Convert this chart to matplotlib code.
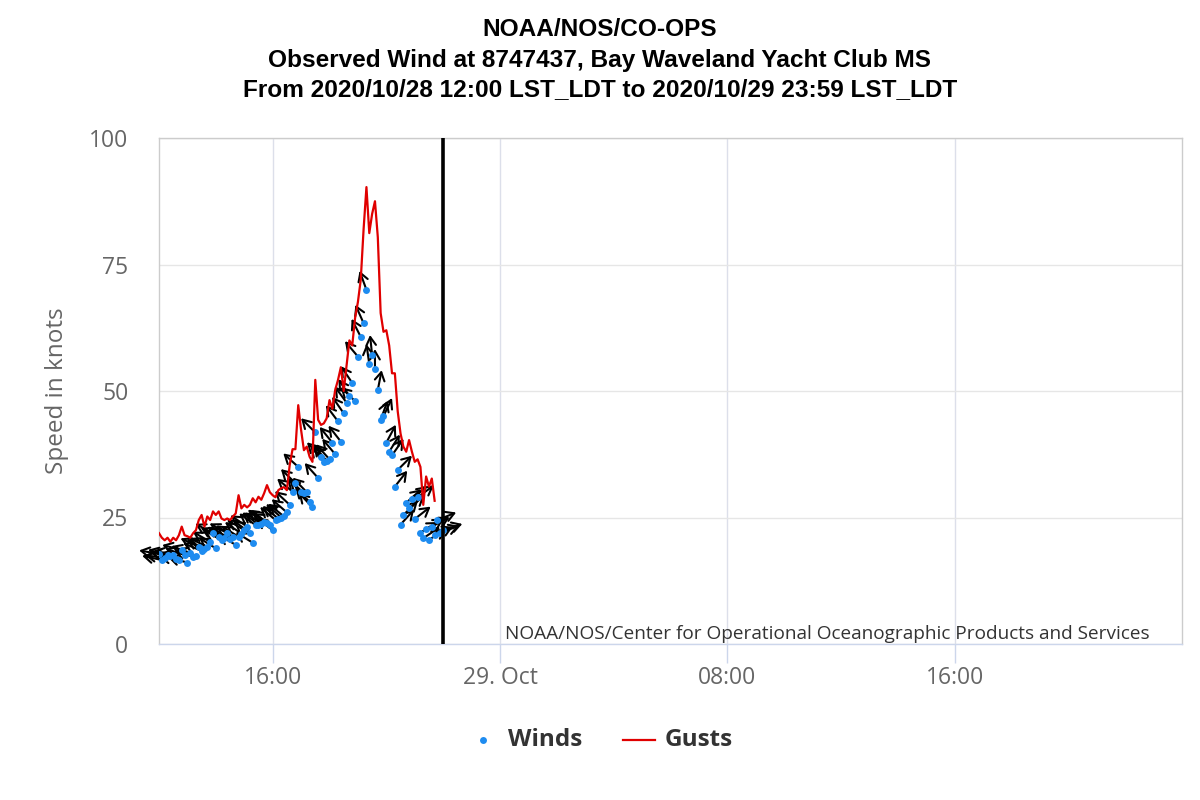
import numpy as np
import pandas as pd
import matplotlib
matplotlib.use("Agg")
import matplotlib.pyplot as plt
import matplotlib.dates as mdates
from matplotlib.lines import Line2D

# 6-minute observations from 2020/10/28 12:00
start = "2020-10-28 12:00"

winds = [17.8, 16.6, 17.0, 17.6, 17.4, 17.6, 16.8, 16.6, 18.6, 17.6,
         16.1, 18.0, 17.2, 17.4, 19.2, 18.4, 18.8, 19.2, 20.2, 21.9,
         18.9, 21.2, 20.5, 21.0, 21.9, 20.8, 21.2, 19.6, 21.2, 21.8,
         22.5, 23.2, 22.0, 20.0, 23.5, 23.6, 23.8, 24.2, 24.0, 23.6,
         22.5, 24.5, 24.8, 25.0, 25.2, 26.0, 27.5, 30.1, 31.8, 35.0,
         30.0, 29.8, 30.0, 28.1, 27.0, 41.8, 32.8, 37.0, 36.0, 36.2,
         36.5, 39.8, 37.5, 44.0, 40.0, 45.6, 47.7, 49.0, 51.6, 48.0,
         56.8, 60.7, 63.4, 70.0, 55.3, 57.1, 54.3, 50.2, 44.3, 45.0,
         39.8, 38.0, 37.3, 31.1, 34.4, 23.6, 25.5, 27.9, 26.8, 28.6,
         24.7, 29.0, 22.0, 20.9, 22.7, 20.6, 23.2, 21.5, 24.5, 22.0,
         22.5]

# wind direction (degrees, from)
wind_dir = [100, 102, 98, 105, 100, 103, 106, 100, 104, 108,
            105, 110, 108, 112, 115, 113, 118, 116, 120, 118,
            122, 117, 120, 123, 119, 121, 124, 120, 122, 125,
            121, 124, 126, 122, 125, 127, 123, 126, 128, 125,
            127, 130, 128, 132, 129, 131, 133, 130, 134, 132,
            135, 133, 136, 134, 137, 135, 138, 136, 139, 140,
            138, 141, 140, 143, 142, 145, 144, 147, 146, 134,
            140, 153, 156, 160, 172, 174, 180, 191, 200, 205,
            208, 212, 215, 218, 225, 222, 226, 228, 230, 229,
            232, 234, 238, 236, 240, 238, 242, 245, 248, 250,
            252]

gusts = [21.9, 21.0, 20.5, 21.0, 20.2, 21.0, 20.5, 21.5, 23.2, 21.5,
         21.3, 21.0, 21.9, 22.5, 24.5, 25.5, 23.2, 25.2, 24.5, 26.2,
         25.5, 26.2, 24.8, 24.5, 24.8, 24.5, 25.2, 25.8, 29.4, 26.8,
         27.5, 27.0, 27.5, 28.8, 28.0, 29.1, 28.5, 29.8, 31.4, 30.0,
         29.4, 29.0, 30.4, 30.8, 31.0, 30.4, 35.4, 38.5, 38.5, 47.2,
         42.3, 38.3, 39.0, 37.0, 36.0, 52.2, 44.3, 43.3, 43.6, 44.6,
         48.2, 46.5, 50.2, 52.2, 54.7, 50.0, 55.0, 60.0, 59.0, 64.4,
         67.6, 72.0, 82.0, 90.3, 81.2, 85.0, 87.5, 80.4, 65.4, 61.7,
         62.0, 59.0, 53.5, 53.5, 46.0, 41.6, 39.0, 38.0, 40.3, 38.0,
         36.0, 36.5, 35.0, 27.5, 33.1, 31.1, 32.7, 28.3]

now_line = "2020-10-28 22:00"
tick_times = ["2020-10-28 16:00", "2020-10-29 00:00", "2020-10-29 08:00", "2020-10-29 16:00"]
tick_labels = ["16:00", "29. Oct", "08:00", "16:00"]

t_wind = mdates.date2num(pd.date_range(start, periods=len(winds), freq="6min").to_pydatetime())
t_gust = mdates.date2num(pd.date_range(start, periods=len(gusts), freq="6min").to_pydatetime())

blue = "#1e8cf0"
red = "#e00000"

fig = plt.figure(figsize=(12, 8), dpi=100)
ax = fig.add_axes([159 / 1200, 1 - 644 / 800, 1023 / 1200, 506 / 800])

ax.plot(t_gust, gusts, color=red, lw=1.6, zorder=5)
ax.plot(t_wind, winds, ls="none", marker="o", ms=5, mec="none", color=blue, zorder=4)

# direction arrows starting at each wind point
L = 14.5
for t, w, d in zip(t_wind, winds, wind_dir):
    head = np.deg2rad(d + 180)
    ax.annotate("", xy=(t, w), xytext=(L * np.sin(head), L * np.cos(head)),
                textcoords="offset points", annotation_clip=False,
                arrowprops=dict(arrowstyle="<-,head_length=0.6,head_width=0.35",
                                color="black", lw=1.5, shrinkA=0, shrinkB=0),
                zorder=3)

ax.axvline(mdates.date2num(pd.Timestamp(now_line)), color="black", lw=2.6, zorder=6)

ax.set_xlim(mdates.date2num(pd.Timestamp("2020-10-28 12:00")),
            mdates.date2num(pd.Timestamp("2020-10-30 00:00")))
ax.set_ylim(0, 100)
ax.set_yticks([0, 25, 50, 75, 100])
ax.set_xticks(mdates.date2num([pd.Timestamp(s) for s in tick_times]))
ax.set_xticklabels(tick_labels)

ax.grid(axis="y", color="#e6e6e6", lw=1)
ax.grid(axis="x", color="#dcdfea", lw=1)
ax.set_axisbelow(True)
for s in ax.spines.values():
    s.set_color("#cccccc")
    s.set_linewidth(1)
ax.spines["bottom"].set_color("#ccd6eb")

ax.tick_params(axis="y", length=0, pad=22, labelsize=16.5, labelcolor="#666666")
ax.tick_params(axis="x", length=14, width=1, color="#ccd6eb", pad=2,
               labelsize=16.5, labelcolor="#666666")
for lab in ax.get_xticklabels() + ax.get_yticklabels():
    lab.set_fontfamily("Open Sans")

fig.text(57 / 1200, 1 - 391 / 800, "Speed in knots", rotation=90, ha="center", va="center",
         fontsize=17.5, color="#666666", family="Open Sans")

title_lines = ["NOAA/NOS/CO-OPS",
               "Observed Wind at 8747437, Bay Waveland Yacht Club MS",
               "From 2020/10/28 12:00 LST_LDT to 2020/10/29 23:59 LST_LDT"]
for k, line in enumerate(title_lines):
    fig.text(0.5, 1 - (30 + 30 * k) / 800, line, ha="center", va="center",
             fontsize=17.6, fontweight="bold", family="Liberation Sans", color="black")

fig.text(1150 / 1200, 1 - 634 / 800,
         "NOAA/NOS/Center for Operational Oceanographic Products and Services",
         ha="right", va="center", fontsize=13.7, color="#333333", family="Open Sans")

# legend
ly = 1 - 740 / 800
fig.add_artist(Line2D([483 / 1200], [ly], marker="o", ms=5, mec="none", color=blue,
                      transform=fig.transFigure))
fig.text(508 / 1200, ly, "Winds", ha="left", va="center", fontsize=17.5,
         fontweight="bold", color="#333333", family="Open Sans")
fig.add_artist(Line2D([623 / 1200, 655 / 1200], [ly, ly], color=red, lw=1.6,
                      transform=fig.transFigure))
fig.text(665 / 1200, ly, "Gusts", ha="left", va="center", fontsize=17.5,
         fontweight="bold", color="#333333", family="Open Sans")

fig.savefig("out.png", dpi=100)
